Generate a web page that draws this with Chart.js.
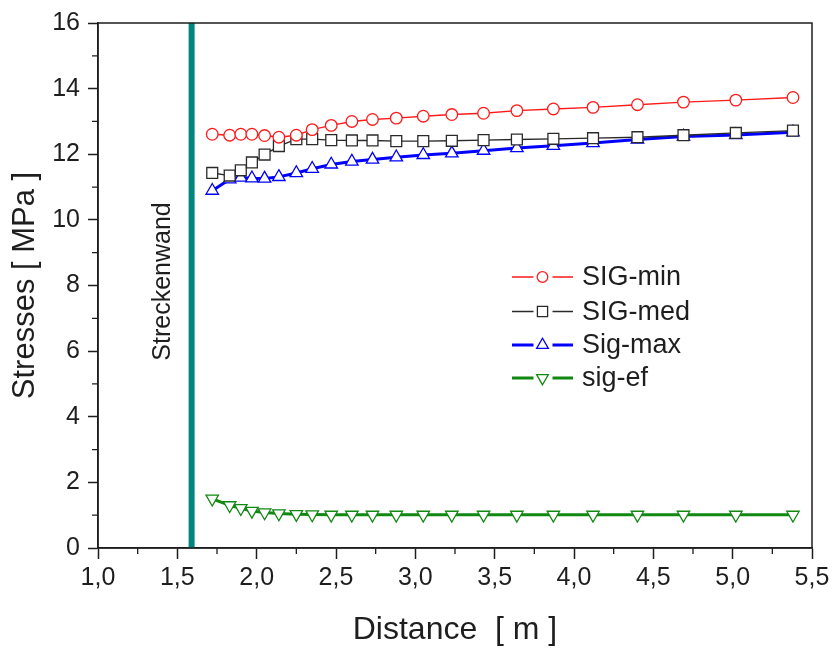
<!DOCTYPE html>
<html>
<head>
<meta charset="utf-8">
<script src="https://cdn.jsdelivr.net/npm/chart.js@4.4.1/dist/chart.umd.min.js"></script>
<style>
html,body{margin:0;padding:0;background:#fff;}
#c{display:block;}
</style>
</head>
<body>
<canvas id="c" width="835" height="651"></canvas>
<script>
// ---- data ----
const distance = [1.72, 1.83, 1.90, 1.97, 2.05, 2.14, 2.25, 2.35, 2.47, 2.60, 2.73, 2.88, 3.05, 3.23, 3.43, 3.64, 3.87, 4.12, 4.40, 4.69, 5.02, 5.38];
const sigMin = [12.61, 12.58, 12.61, 12.61, 12.57, 12.52, 12.58, 12.75, 12.88, 13.00, 13.06, 13.10, 13.16, 13.21, 13.25, 13.33, 13.38, 13.43, 13.51, 13.59, 13.65, 13.73];
const sigMed = [11.43, 11.35, 11.51, 11.75, 11.99, 12.25, 12.46, 12.46, 12.43, 12.42, 12.42, 12.40, 12.40, 12.41, 12.43, 12.45, 12.47, 12.49, 12.52, 12.58, 12.65, 12.72];
const sigMax = [10.89, 11.24, 11.29, 11.27, 11.26, 11.31, 11.43, 11.56, 11.69, 11.78, 11.84, 11.91, 11.98, 12.03, 12.11, 12.19, 12.26, 12.34, 12.45, 12.54, 12.59, 12.67];
const sigEf = [1.50, 1.30, 1.21, 1.13, 1.08, 1.05, 1.03, 1.02, 1.01, 1.01, 1.01, 1.01, 1.01, 1.01, 1.01, 1.01, 1.01, 1.01, 1.01, 1.01, 1.01, 1.01];
const seriesNames = ['SIG-min', 'SIG-med', 'Sig-max', 'sig-ef'];
const wallX = 1.59;
const wallRange = [0, 16];
const wallLabel = 'Streckenwand';
const xTickValues = [1.0, 1.5, 2.0, 2.5, 3.0, 3.5, 4.0, 4.5, 5.0, 5.5];
const xTickLabels = ['1,0', '1,5', '2,0', '2,5', '3,0', '3,5', '4,0', '4,5', '5,0', '5,5'];
const yTickValues = [0, 2, 4, 6, 8, 10, 12, 14, 16];
const yTickLabels = ['0', '2', '4', '6', '8', '10', '12', '14', '16'];
const xTitle = 'Distance  [ m ]';
const yTitle = 'Stresses [ MPa ]';

const FONT = '"Liberation Sans", Arial, Helvetica, sans-serif';
const INK = '#1e1e1e';

function pts(ys) { return distance.map((x, i) => ({x: x, y: ys[i]})); }

const styles = [
  {color: '#ff1a1a', width: 1.4, shape: 'circle', radius: 5.8, rot: 0},
  {color: '#2a2a2a', width: 1.4, shape: 'rect', radius: 7.7, rot: 0},
  {color: '#0000ff', width: 3, shape: 'triangle', radius: 7.2, rot: 0},
  {color: '#118811', width: 3, shape: 'triangle', radius: 7.2, rot: 180}
];
const seriesData = [sigMin, sigMed, sigMax, sigEf];

const datasets = seriesData.map((ys, i) => ({
  label: seriesNames[i],
  data: pts(ys),
  borderColor: styles[i].color,
  borderWidth: styles[i].width,
  pointStyle: styles[i].shape,
  pointRadius: styles[i].radius,
  pointRotation: styles[i].rot,
  pointBorderColor: styles[i].color,
  pointBackgroundColor: '#ffffff',
  pointBorderWidth: 1.3,
  tension: 0,
  fill: false
}));
datasets.push({
  label: wallLabel,
  data: wallRange.map(v => ({x: wallX, y: v})),
  borderColor: '#00857f',
  borderWidth: 6,
  pointRadius: 0,
  fill: false,
  order: 10
});

function drawMarker(ctx, shape, x, y, r, rot) {
  ctx.beginPath();
  if (shape === 'circle') {
    ctx.arc(x, y, r, 0, Math.PI * 2);
  } else if (shape === 'rect') {
    const s = r * Math.SQRT1_2;
    ctx.rect(x - s, y - s, 2 * s, 2 * s);
  } else {
    const base = rot * Math.PI / 180;
    for (let k = 0; k < 3; k++) {
      const a = base + k * 2 * Math.PI / 3;
      const px = x + Math.sin(a) * r, py = y - Math.cos(a) * r;
      if (k === 0) ctx.moveTo(px, py); else ctx.lineTo(px, py);
    }
    ctx.closePath();
  }
  ctx.fillStyle = '#fff';
  ctx.fill();
  ctx.stroke();
}

const decor = {
  id: 'decor',
  afterDatasetsDraw(chart) {
    const ctx = chart.ctx;
    const a = chart.chartArea;
    const xs = chart.scales.x, ys = chart.scales.y;
    ctx.save();
    // frame
    ctx.strokeStyle = INK;
    ctx.lineWidth = 1.5;
    ctx.strokeRect(a.left, a.top, a.right - a.left, a.bottom - a.top);
    // minor ticks
    ctx.lineWidth = 1.3;
    ctx.beginPath();
    for (let i = 0; i < xTickValues.length - 1; i++) {
      const v = (xTickValues[i] + xTickValues[i + 1]) / 2;
      const px = xs.getPixelForValue(v);
      ctx.moveTo(px, a.bottom); ctx.lineTo(px, a.bottom + 6);
    }
    for (let i = 0; i < yTickValues.length - 1; i++) {
      const v = (yTickValues[i] + yTickValues[i + 1]) / 2;
      const py = ys.getPixelForValue(v);
      ctx.moveTo(a.left, py); ctx.lineTo(a.left - 6, py);
    }
    ctx.stroke();
    // wall label
    const wx = xs.getPixelForValue(wallX) - 29;
    const wy = (a.top + a.bottom) / 2 - 4;
    ctx.translate(wx, wy);
    ctx.rotate(-Math.PI / 2);
    ctx.fillStyle = INK;
    ctx.font = '25px ' + FONT;
    ctx.textAlign = 'center';
    ctx.textBaseline = 'middle';
    ctx.fillText(wallLabel, 0, 0);
    ctx.restore();

    // legend
    ctx.save();
    const lx0 = 512, lx1 = 573, mx = 542.5, tx = 582;
    const rows = [277, 311.5, 345, 378];
    ctx.font = '27px ' + FONT;
    ctx.textBaseline = 'middle';
    ctx.textAlign = 'left';
    for (let i = 0; i < 4; i++) {
      const st = styles[i], y = rows[i];
      ctx.strokeStyle = st.color;
      ctx.lineWidth = st.width;
      ctx.beginPath();
      ctx.moveTo(lx0, y); ctx.lineTo(mx - 9, y);
      ctx.moveTo(mx + 10, y); ctx.lineTo(lx1, y);
      ctx.stroke();
      ctx.lineWidth = 1.3;
      const r = st.shape === 'circle' ? 5.3 : (st.shape === 'rect' ? 7.2 : 6.8);
      drawMarker(ctx, st.shape, mx, y, r, st.rot);
      ctx.fillStyle = INK;
      ctx.fillText(seriesNames[i], tx, y + 1);
    }
    ctx.restore();
  }
};

new Chart(document.getElementById('c'), {
  type: 'line',
  data: {datasets: datasets},
  options: {
    responsive: false,
    animation: false,
    devicePixelRatio: 1,
    layout: {padding: {left: 0, right: 23, top: 16, bottom: 0}},
    plugins: {legend: {display: false}, tooltip: {enabled: false}},
    scales: {
      x: {
        type: 'linear',
        min: 1, max: 5.5,
        afterBuildTicks: s => { s.ticks = xTickValues.map(v => ({value: v})); },
        afterFit: s => { s.height = 103; },
        ticks: {
          callback: v => { const i = xTickValues.findIndex(t => Math.abs(t - v) < 1e-6); return i >= 0 ? xTickLabels[i] : ''; },
          font: {family: FONT, size: 25},
          color: INK,
          padding: 4,
          maxRotation: 0,
          autoSkip: false
        },
        grid: {drawOnChartArea: false, drawTicks: true, tickLength: 11, tickWidth: 1.5, tickColor: INK},
        border: {display: true, color: INK, width: 1.5},
        title: {display: true, text: xTitle, font: {family: FONT, size: 32}, color: INK, padding: {top: 0, bottom: 2}}
      },
      y: {
        type: 'linear',
        min: 0, max: 16,
        afterBuildTicks: s => { s.ticks = yTickValues.map(v => ({value: v})); },
        afterFit: s => { s.width = 98; },
        ticks: {
          callback: v => { const i = yTickValues.indexOf(v); return i >= 0 ? yTickLabels[i] : ''; },
          font: {family: FONT, size: 25},
          color: INK,
          padding: 8,
          autoSkip: false
        },
        grid: {drawOnChartArea: false, drawTicks: true, tickLength: 10, tickWidth: 1.5, tickColor: INK},
        border: {display: true, color: INK, width: 1.5},
        title: {display: true, text: yTitle, font: {family: FONT, size: 31}, color: INK, padding: {top: 7, bottom: 0}}
      }
    }
  },
  plugins: [decor]
});
</script>
</body>
</html>
